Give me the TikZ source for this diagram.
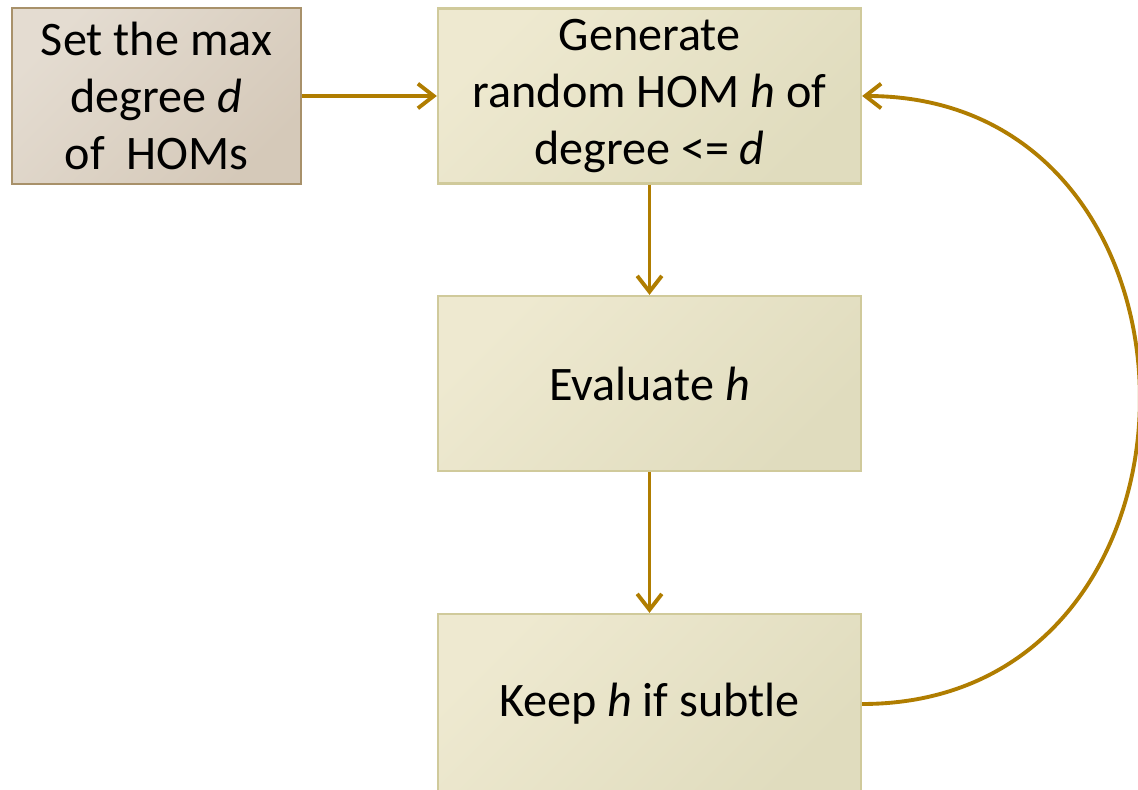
\documentclass[tikz,border=0pt]{standalone}
\usepackage{fontspec}
\setmainfont{Carlito}
\usetikzlibrary{arrows.meta}

\definecolor{flowgold}{HTML}{B07D00}
\definecolor{tanline}{HTML}{A8916A}
\definecolor{tantop}{HTML}{E4DCD1}
\definecolor{tanbot}{HTML}{D5C9B9}
\definecolor{boxline}{HTML}{D0CA9B}
\definecolor{boxtop}{HTML}{EEE9D0}
\definecolor{boxbot}{HTML}{E0DCBE}

\begin{document}
\begin{tikzpicture}[font=\fontsize{27.4pt}{32.5pt}\selectfont,
    box/.style={draw=boxline, line width=1.3pt,
      top color=boxtop, bottom color=boxbot, shading angle=45,
      align=center, inner sep=0pt,
      minimum width=8.46cm, minimum height=3.5cm},
    flow/.style={draw=flowgold, line width=2.2pt,
      -{Straight Barb[length=9pt,width=14pt]}}]
      \useasboundingbox (0,0) rectangle (22.76,15.8);
      \clip (0,0) rectangle (22.76,15.8);
      \node[box, draw=tanline, top color=tantop, bottom color=tanbot,
        shading angle=45, minimum width=5.78cm, minimum height=3.52cm]
        (maxdeg) at (3.13,13.88) {Set the max\\degree \textit{d}\\of~ HOMs};
      \node[box] (gen) at (12.99,13.88)
        {Generate\\random HOM \textit{h} of\\degree <= \textit{d}};
      \node[box] (eval) at (12.99,8.13) {Evaluate \textit{h}};
      \node[box, minimum height=3.6cm] (keep) at (12.99,1.72) {Keep \textit{h} if subtle};
      \draw[flow] (maxdeg) -- (gen);
      \draw[flow] (gen) -- (eval);
      \draw[flow] (eval) -- (keep);
      \draw[flow] (keep.east) to[out=0, in=0, distance=7.39cm] (gen.east);
    \end{tikzpicture}
\end{document}
